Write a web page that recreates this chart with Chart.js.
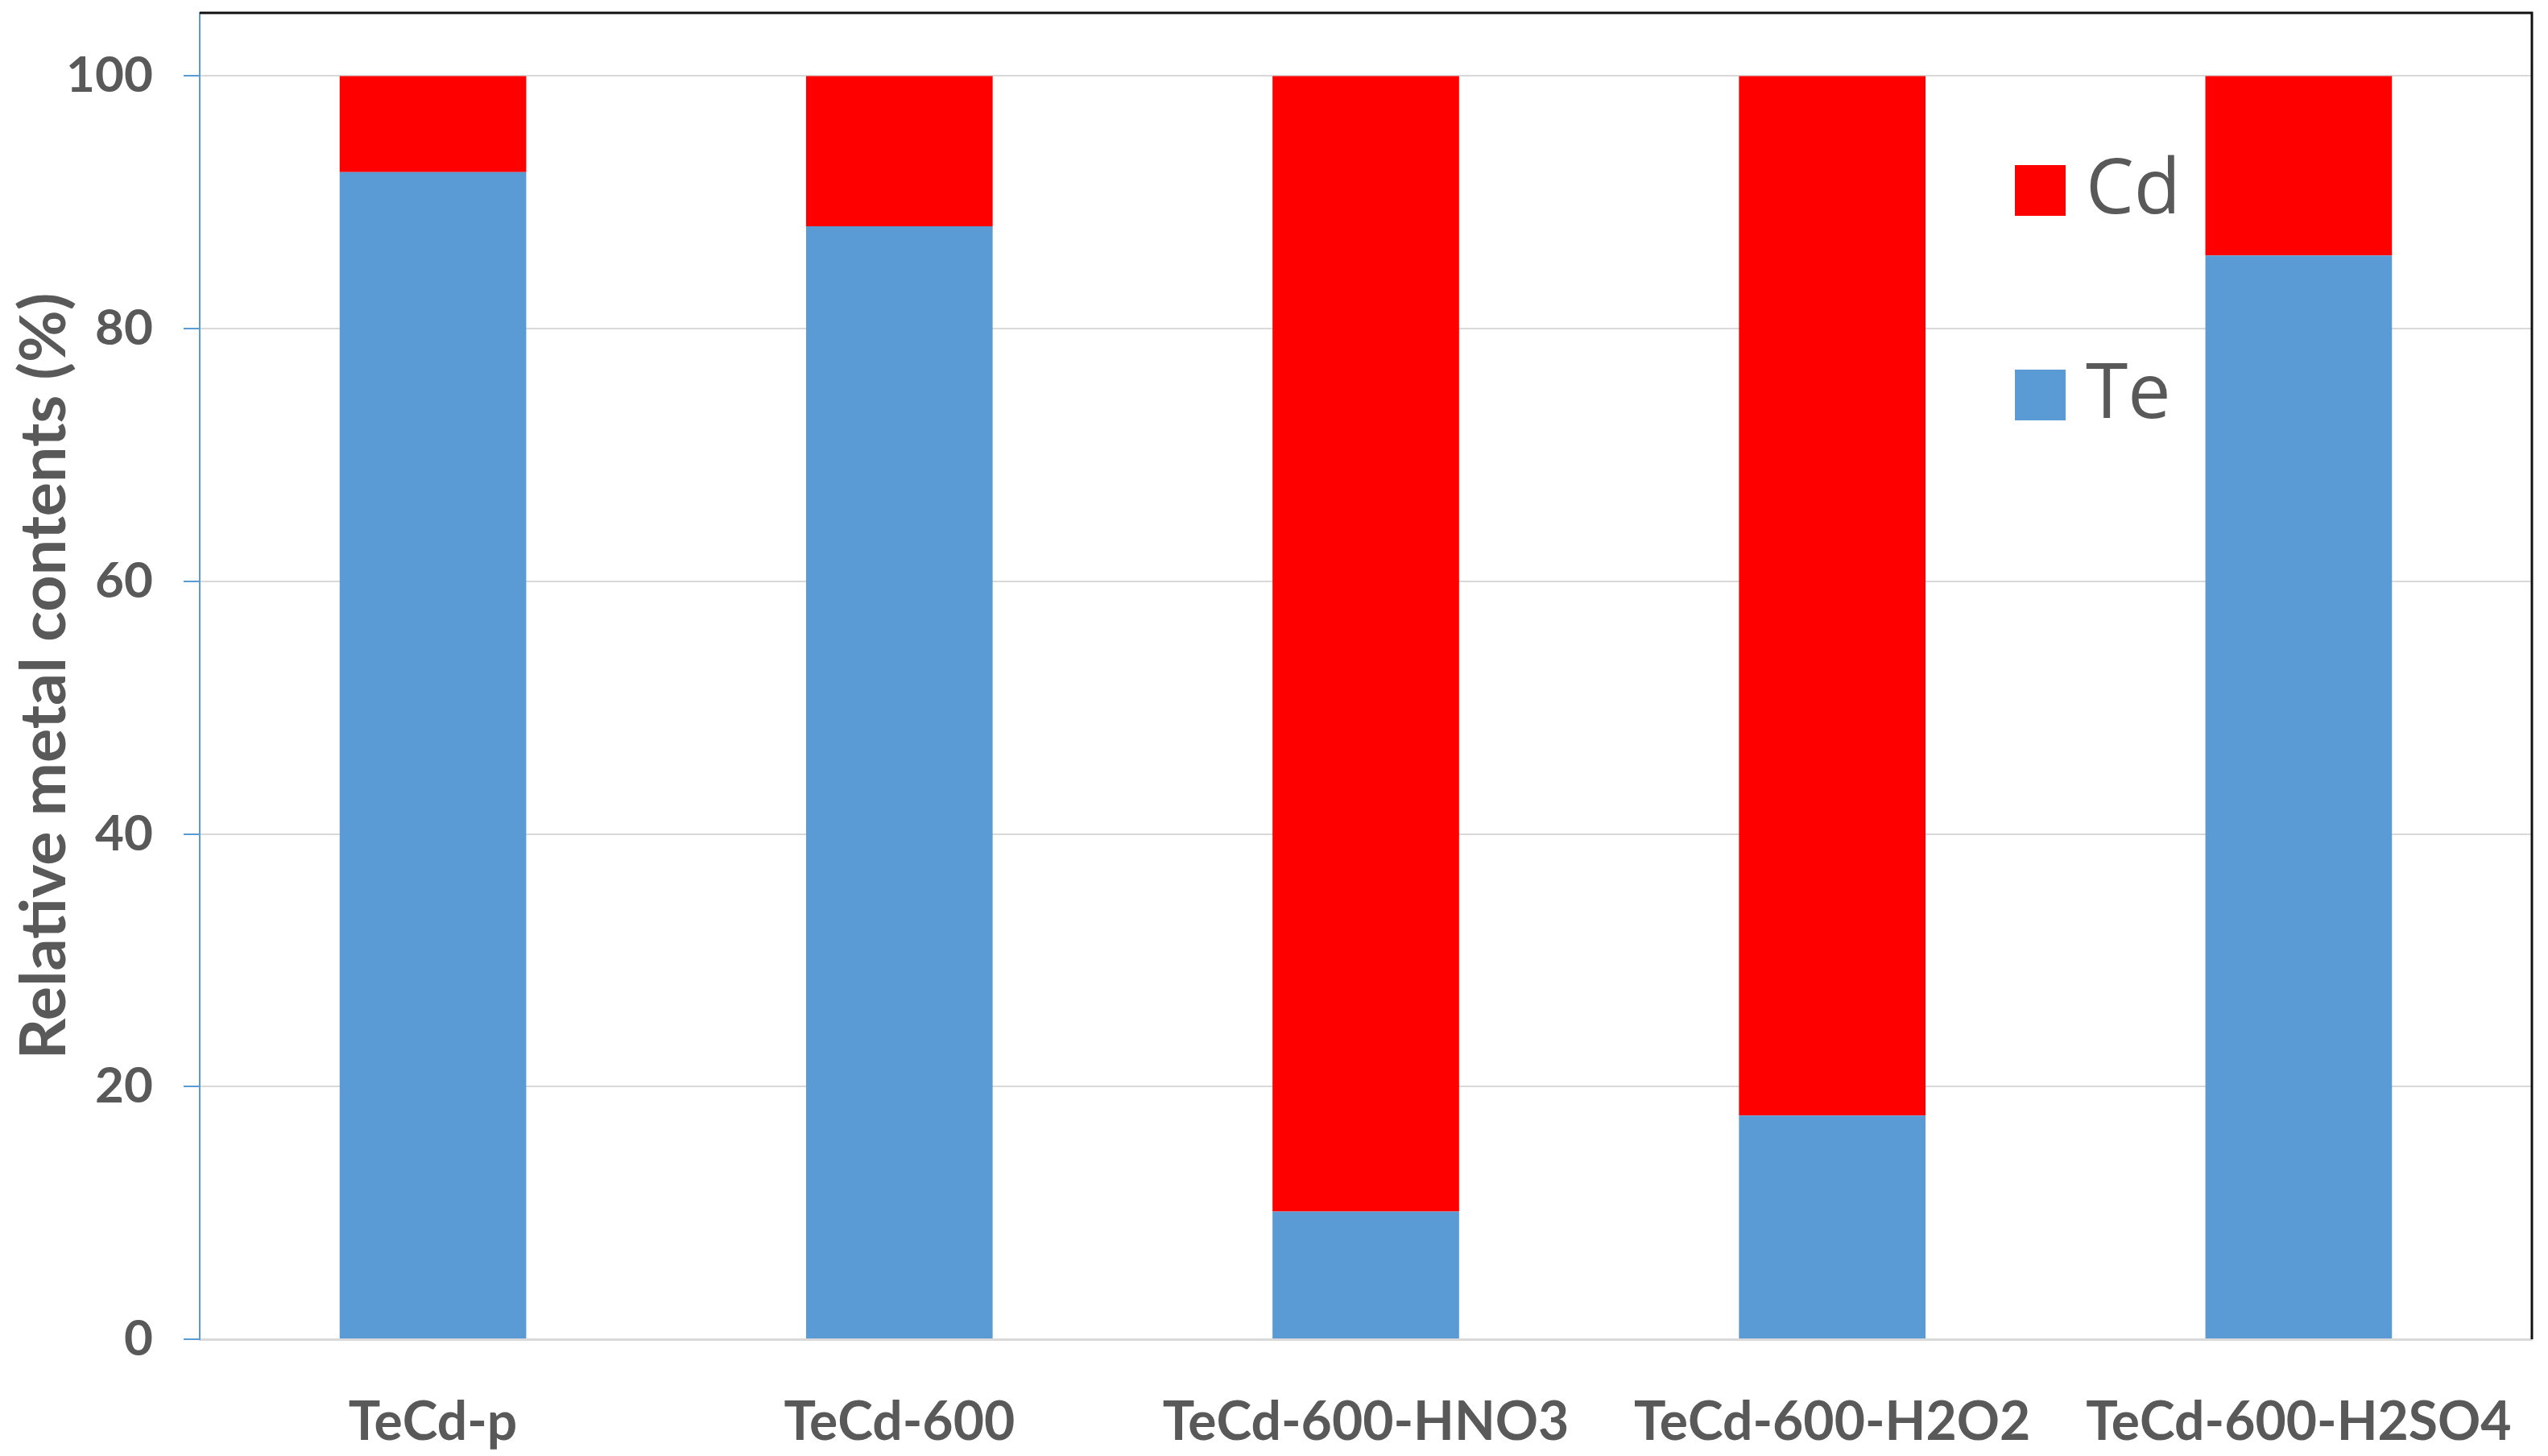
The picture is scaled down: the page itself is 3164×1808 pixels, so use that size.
<!DOCTYPE html>
<html>
<head>
<meta charset="utf-8">
<script src="https://cdn.jsdelivr.net/npm/chart.js@4.4.1/dist/chart.umd.min.js"></script>
<style>
  html, body { margin: 0; padding: 0; background: #fff; }
  canvas { display: block; }
</style>
</head>
<body>
<canvas id="chart" width="3164" height="1808"></canvas>
<script>
const categories = ['TeCd-p', 'TeCd-600', 'TeCd-600-HNO3', 'TeCd-600-H2O2', 'TeCd-600-H2SO4'];
const teValues = [92.4, 88.1, 10.1, 17.7, 85.8];
const cdValues = [7.6, 11.9, 89.9, 82.3, 14.2];
const yTicks = [0, 20, 40, 60, 80, 100];

const textGrey = '#595959';
const teBlue = '#5B9BD5';
const cdRed = '#FF0000';

// black frame on top and right of the plot area
const frame = {
  id: 'frame',
  afterDraw(chart) {
    const a = chart.chartArea;
    const c = chart.ctx;
    c.save();
    c.strokeStyle = '#111';
    c.lineWidth = 3;
    c.beginPath();
    c.moveTo(a.left, a.top);
    c.lineTo(a.right, a.top);
    c.lineTo(a.right, a.bottom);
    c.stroke();
    c.restore();
  }
};

// legend inside the plot, Cd above Te
const boxLegend = {
  id: 'boxLegend',
  afterDraw(chart) {
    const c = chart.ctx;
    const items = chart.data.datasets.slice().reverse();
    c.save();
    c.font = '95px "Open Sans"';
    c.textBaseline = 'middle';
    items.forEach((ds, i) => {
      const cy = 236 + i * 254;
      c.fillStyle = ds.backgroundColor;
      c.fillRect(2502, cy - 31, 63, 63);
      c.fillStyle = textGrey;
      c.fillText(ds.label, 2590, cy + 2);
    });
    c.restore();
  }
};

new Chart(document.getElementById('chart'), {
  type: 'bar',
  data: {
    labels: categories,
    datasets: [
      { label: 'Te', data: teValues, backgroundColor: teBlue, categoryPercentage: 1, barPercentage: 0.4 },
      { label: 'Cd', data: cdValues, backgroundColor: cdRed, categoryPercentage: 1, barPercentage: 0.4 }
    ]
  },
  options: {
    responsive: false,
    animation: false,
    devicePixelRatio: 1,
    layout: { padding: { top: 16, right: 20, left: 0, bottom: 0 } },
    plugins: { legend: { display: false }, tooltip: { enabled: false } },
    scales: {
      x: {
        stacked: true,
        grid: { display: false },
        border: { display: true, color: '#D9D9D9', width: 3 },
        ticks: { color: textGrey, font: { family: 'Lato', weight: 'bold', size: 66 }, padding: 56, maxRotation: 0 },
        afterFit(s) { s.height = 145; s.paddingLeft = 0; s.paddingRight = 0; }
      },
      y: {
        stacked: true,
        min: 0,
        max: 105,
        afterBuildTicks(s) { s.ticks = yTicks.map(v => ({ value: v })); },
        ticks: { color: textGrey, font: { family: 'Lato', weight: 'bold', size: 62 }, padding: 38 },
        grid: { color: '#D9D9D9', lineWidth: 2, tickColor: teBlue, tickLength: 20 },
        border: { color: teBlue, width: 2 },
        title: {
          display: true,
          text: 'Relative metal contents (%)',
          color: textGrey,
          font: { family: 'Lato', weight: 'bold', size: 79 },
          padding: { top: 8, bottom: 0 }
        },
        afterFit(s) { s.width = 248; s.paddingTop = 0; s.paddingBottom = 0; }
      }
    }
  },
  plugins: [frame, boxLegend]
});
</script>
</body>
</html>
